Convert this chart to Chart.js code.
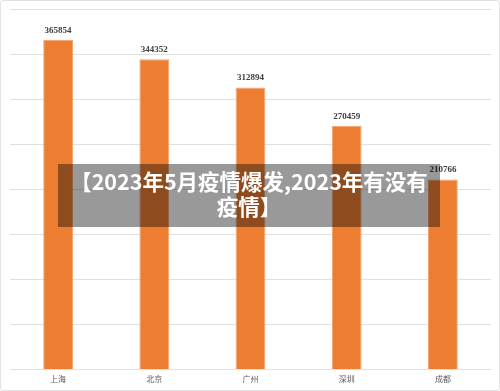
<!DOCTYPE html>
<html><head><meta charset="utf-8">
<script src="https://cdn.jsdelivr.net/npm/chart.js@4"></script>
<style>
html,body{margin:0;padding:0;background:#fff;}
#wrap{position:relative;width:500px;height:391px;overflow:hidden;}
#c{position:absolute;left:0;top:0;}
#frame{position:absolute;left:0;top:0;width:498px;height:389px;border:1px solid #e2e2e2;border-radius:3px;pointer-events:none;}
#banner{position:absolute;left:58px;top:164px;width:382px;height:63px;background:rgba(0,0,0,0.4);color:#fff;
font-family:"Noto Sans CJK SC",sans-serif;font-weight:bold;font-size:21.5px;line-height:25px;text-align:center;box-sizing:border-box;padding-top:4px;}
</style></head>
<body>
<div id="wrap">
<canvas id="c" width="500" height="391"></canvas>
<div id="frame"></div>
<div id="banner">【2023年5月疫情爆发,2023年有没有<br>疫情】</div>
</div>
<script>
const categories = ["上海","北京","广州","深圳","成都"];
const values = [365854, 344352, 312894, 270459, 210766];
const yMax = 400000;
const yStep = 50000;

const labelPlugin = {
  id: 'valueLabels',
  afterDatasetsDraw(chart) {
    const ctx = chart.ctx;
    const meta = chart.getDatasetMeta(0);
    ctx.save();
    ctx.font = 'bold 9px "Liberation Serif", serif';
    ctx.fillStyle = '#404040';
    ctx.textAlign = 'center';
    ctx.textBaseline = 'bottom';
    meta.data.forEach((bar, i) => {
      ctx.fillText(String(values[i]), bar.x, bar.y - 5);
    });
    ctx.restore();
  }
};

new Chart(document.getElementById('c'), {
  type: 'bar',
  data: {
    labels: categories,
    datasets: [{
      data: values,
      backgroundColor: '#ED7D31',
      borderColor: '#F4A46E',
      borderWidth: 1,
      barPercentage: 0.62,
      categoryPercentage: 0.5
    }]
  },
  options: {
    responsive: false,
    animation: false,
    devicePixelRatio: 1,
    layout: { padding: { left: 10, right: 9, top: 9, bottom: 2 } },
    plugins: { legend: { display: false }, tooltip: { enabled: false } },
    scales: {
      x: {
        grid: { display: false, drawTicks: false },
        border: { display: false },
        ticks: { color: '#595959', font: { family: '"Noto Sans CJK SC", sans-serif', size: 8 }, padding: 5, maxRotation: 0 }
      },
      y: {
        min: 0, max: yMax,
        ticks: { display: false, stepSize: yStep },
        grid: { color: '#e0e0e0', lineWidth: 1, drawTicks: false },
        border: { display: false }
      }
    }
  },
  plugins: [labelPlugin]
});
</script>
</body></html>
